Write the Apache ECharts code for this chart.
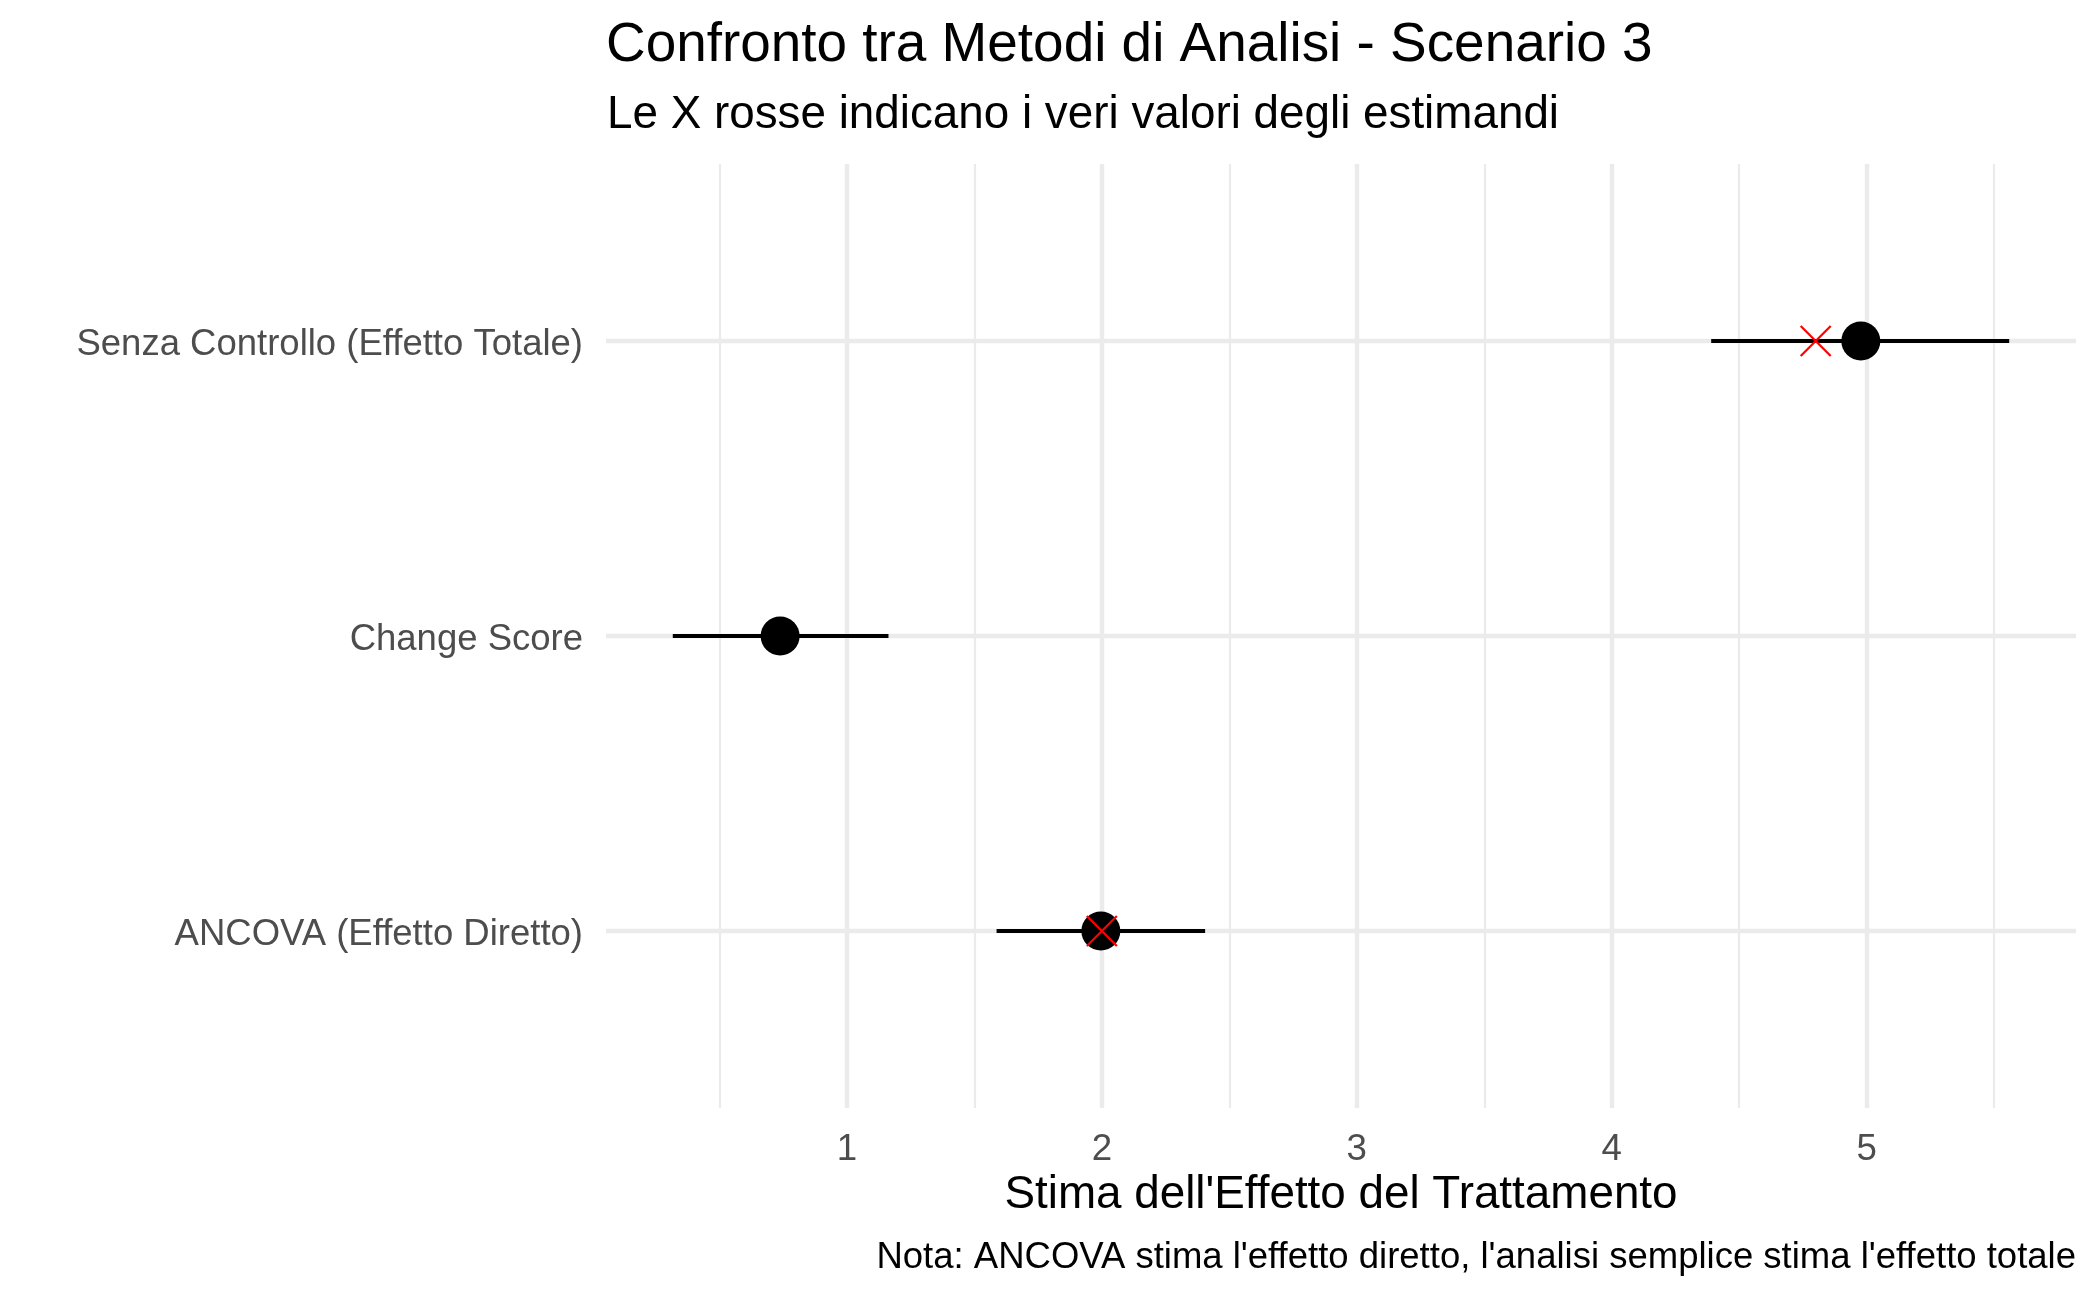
<!DOCTYPE html>
<html>
<head>
<meta charset="utf-8">
<script src="https://cdn.jsdelivr.net/npm/echarts@6/dist/echarts.min.js"></script>
<style>
  html, body { margin: 0; padding: 0; background: #fff; }
  #chart { width: 2100px; height: 1297px; }
</style>
</head>
<body>
<div id="chart"></div>
<script>
// ---- data ----
var methods = ['ANCOVA (Effetto Diretto)', 'Change Score', 'Senza Controllo (Effetto Totale)'];
var estimates = [1.996, 0.738, 4.977];
var lowerCI = [1.587, 0.317, 4.39];
var upperCI = [2.405, 1.163, 5.559];
var trueValues = [2.0, null, 4.8];
var xTickLabels = [1, 2, 3, 4, 5];
var xMinorTicks = [0.5, 1.5, 2.5, 3.5, 4.5, 5.5];

var titleText = 'Confronto tra Metodi di Analisi - Scenario 3';
var subtitleText = 'Le X rosse indicano i veri valori degli estimandi';
var xAxisTitle = "Stima dell'Effetto del Trattamento";
var captionText = "Nota: ANCOVA stima l'effetto diretto, l'analisi semplice stima l'effetto totale";

// ---- build ----
var yPos = methods.map(function (m, i) { return i + 1; });
var barData = methods.map(function (m, i) { return [lowerCI[i], upperCI[i], yPos[i]]; });
var pointData = methods.map(function (m, i) { return [estimates[i], yPos[i]]; });
var trueData = [];
methods.forEach(function (m, i) { if (trueValues[i] != null) trueData.push([trueValues[i], yPos[i]]); });

var FONT = 'Liberation Sans, Arial, Helvetica, sans-serif';
var xMin = 0.055, xMax = 5.821;

var chart = echarts.init(document.getElementById('chart'), null, { renderer: 'canvas' });
chart.setOption({
  backgroundColor: '#ffffff',
  animation: false,
  title: [
    { text: titleText, left: 606, top: 18, padding: 0, textStyle: { fontFamily: FONT, fontSize: 54.9, fontWeight: 'normal', color: '#000' } },
    { text: subtitleText, left: 607, top: 92, padding: 0, textStyle: { fontFamily: FONT, fontSize: 45.8, fontWeight: 'normal', color: '#000' } },
    { text: xAxisTitle, left: 1341, textAlign: 'center', top: 1172, padding: 0, textStyle: { fontFamily: FONT, fontSize: 45.8, fontWeight: 'normal', color: '#000' } },
    { text: captionText, right: 24, top: 1239, padding: 0, textStyle: { fontFamily: FONT, fontSize: 36.5, fontWeight: 'normal', color: '#000' } }
  ],
  grid: { left: 606, right: 24, top: 164, bottom: 189, containLabel: false },
  xAxis: [
    {
      type: 'value', min: xMin, max: xMax,
      axisLine: { show: false },
      axisTick: { show: false, customValues: xTickLabels },
      axisLabel: { customValues: xTickLabels, color: '#4D4D4D', fontFamily: FONT, fontSize: 36.7, margin: 23 },
      splitLine: { show: true, lineStyle: { color: '#EBEBEB', width: 4.4 } }
    },
    {
      type: 'value', min: xMin, max: xMax, position: 'bottom',
      axisLine: { show: false },
      axisTick: { show: false, customValues: xMinorTicks },
      axisLabel: { show: false },
      splitLine: { show: true, lineStyle: { color: '#EBEBEB', width: 2.2 } }
    }
  ],
  yAxis: {
    type: 'value', min: 0.4, max: 3.6,
    axisLine: { show: false },
    axisTick: { show: false, customValues: yPos },
    axisLabel: {
      customValues: yPos, margin: 23,
      formatter: function (v) { return '{l|' + (methods[Math.round(v) - 1] || '') + '}'; },
      rich: {
        l: { color: '#4D4D4D', fontFamily: FONT, fontSize: 36.5, padding: [8, 0, 0, 0] }
      }
    },
    splitLine: { show: true, lineStyle: { color: '#EBEBEB', width: 4.4 } }
  },
  series: [
    {
      type: 'custom',
      data: barData,
      encode: { x: [0, 1], y: 2 },
      renderItem: function (params, api) {
        var p1 = api.coord([api.value(0), api.value(2)]);
        var p2 = api.coord([api.value(1), api.value(2)]);
        return {
          type: 'line',
          shape: { x1: p1[0], y1: p1[1], x2: p2[0], y2: p2[1] },
          style: { stroke: '#000', lineWidth: 4.2 }
        };
      },
      z: 2
    },
    {
      type: 'scatter',
      data: pointData,
      symbol: 'circle',
      symbolSize: 39,
      itemStyle: { color: '#000', opacity: 1 },
      z: 3
    },
    {
      type: 'scatter',
      data: trueData,
      symbol: 'path://M0,0L10,10M10,0L0,10',
      symbolSize: 30,
      itemStyle: { color: 'transparent', borderColor: '#FF0000', borderWidth: 2.2, opacity: 1 },
      z: 4
    }
  ]
});
</script>
</body>
</html>
